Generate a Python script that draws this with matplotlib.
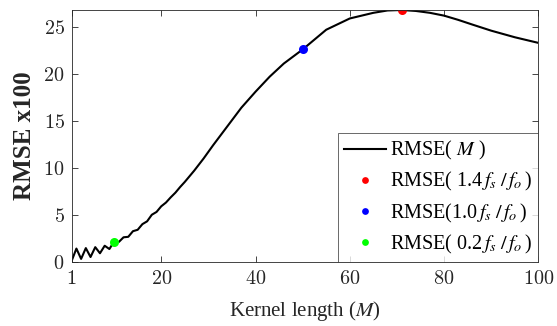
import matplotlib
matplotlib.use("Agg")
import matplotlib.pyplot as plt
from matplotlib.font_manager import FontProperties

# kernel length vs RMSE (x100)
kernel_len = [1, 2, 3, 4, 5, 6, 7, 8, 9, 10, 11, 12, 13, 14, 15, 16, 17, 18, 19, 20,
              21, 22, 23, 24, 25, 27, 29, 31, 34, 37, 40, 43, 46, 50, 55, 60, 65, 68,
              71, 74, 77, 80, 83, 86, 90, 95, 100]
rmse = [0.1, 1.4, 0.3, 1.45, 0.5, 1.55, 0.9, 1.7, 1.35, 2.15, 2.1, 2.6, 2.65, 3.25, 3.4,
        4.0, 4.3, 5.0, 5.3, 5.9, 6.3, 6.85, 7.35, 7.95, 8.5, 9.7, 11.0, 12.4, 14.4, 16.4,
        18.1, 19.7, 21.1, 22.6, 24.7, 25.9, 26.5, 26.75, 26.8, 26.7, 26.5, 26.2, 25.75,
        25.25, 24.6, 23.9, 23.3]

# highlighted points
pt_m = [71, 50, 10]
pt_rmse = [26.8, 22.6, 2.15]
pt_colors = ['#ff0000', '#0000ff', '#00ff00']
pt_labels = [r'RMSE( 1.4$\,f_{s}\;/\,f_{o}\,$)', r'RMSE(1.0$\,f_{s}\;/\,f_{o}\,$)',
             r'RMSE( 0.2$\,f_{s}\;/\,f_{o}\,$)']

x_ticks = [1, 20, 40, 60, 80, 100]
y_ticks = [0, 5, 10, 15, 20, 25]

plt.rcParams['mathtext.fontset'] = 'cm'
axcol = '#262626'

fig = plt.figure(figsize=(5.57, 3.26), dpi=100)
ax = fig.add_axes([0.1287, 0.1972, 0.8378, 0.7721])

ax.plot(kernel_len, rmse, color='k', lw=1.5, label=r'RMSE( $M$ )')
for m, r, c, lab in zip(pt_m, pt_rmse, pt_colors, pt_labels):
    ax.plot(m, r, 'o', color=c, ms=6.5, mec='none', label=lab)

ax.set_xlim(1, 100)
ax.set_ylim(0, 26.8)
ax.set_xticks(x_ticks)
ax.set_xticklabels(['$%d$' % t for t in x_ticks])
ax.set_yticks(y_ticks)
ax.set_yticklabels(['$%d$' % t for t in y_ticks])
ax.tick_params(direction='in', top=True, right=True, length=4, width=0.6,
               colors=axcol, labelsize=14.5, labelcolor='#262626', pad=5)
for s in ax.spines.values():
    s.set_color(axcol)
    s.set_linewidth(0.6)

ax.set_xlabel(r'Kernel length ($M$)', fontsize=15, family='Liberation Serif',
              math_fontfamily='stix', color='#262626', labelpad=8)
ax.set_ylabel('RMSE x100', fontsize=18, fontweight='bold', family='Liberation Serif',
              color='#262626', labelpad=5)

leg_font = FontProperties(family='Liberation Serif', size=14.5, math_fontfamily='stix')
leg = ax.legend(loc='lower right', prop=leg_font, frameon=True, fancybox=False,
                borderaxespad=0, handlelength=2.1, handletextpad=0.2, labelspacing=0.4,
                borderpad=0.3, markerscale=0.75)
leg.get_frame().set_edgecolor(axcol)
leg.get_frame().set_linewidth(0.6)

fig.savefig('out.png', dpi=100)
